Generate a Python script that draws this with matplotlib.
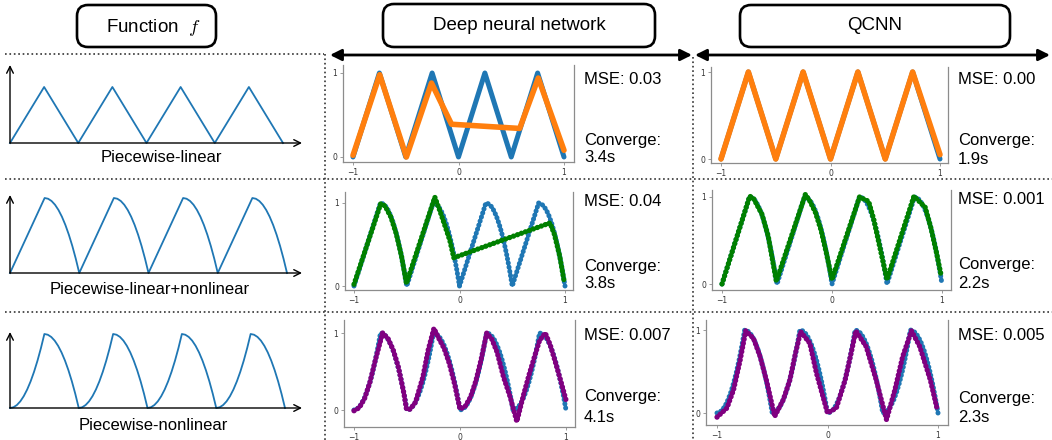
import matplotlib
matplotlib.use("Agg")
import matplotlib.pyplot as plt
from matplotlib.patches import FancyBboxPatch

plt.rcParams["mathtext.fontset"] = "cm"

# ---------------- data ----------------
row_labels = ["Piecewise-linear", "Piecewise-linear+nonlinear", "Piecewise-nonlinear"]
col_titles = ["Deep neural network", "QCNN"]
mse_dnn = ["0.03", "0.04", "0.007"]
mse_qcnn = ["0.00", "0.001", "0.005"]
time_dnn = ["3.4s", "3.8s", "4.1s"]
time_qcnn = ["1.9s", "2.2s", "2.3s"]

# true functions
x_lin = [-1.0, -0.75, -0.5, -0.25, 0.0, 0.25, 0.5, 0.75, 1.0]
y_lin = [0.0, 1.0, 0.0, 1.0, 0.0, 1.0, 0.0, 1.0, 0.0]

x_mix = [-1.0, -0.75, -0.725, -0.70, -0.675, -0.65, -0.625, -0.60, -0.575, -0.55, -0.525, -0.50,
         -0.25, -0.225, -0.20, -0.175, -0.15, -0.125, -0.10, -0.075, -0.05, -0.025, 0.00,
         0.25, 0.275, 0.30, 0.325, 0.35, 0.375, 0.40, 0.425, 0.45, 0.475, 0.50,
         0.75, 0.775, 0.80, 0.825, 0.85, 0.875, 0.90, 0.925, 0.95, 0.975, 1.00]
y_mix = [0.0, 1.0, 0.99, 0.96, 0.91, 0.84, 0.75, 0.64, 0.51, 0.36, 0.19, 0.0,
         1.0, 0.99, 0.96, 0.91, 0.84, 0.75, 0.64, 0.51, 0.36, 0.19, 0.0,
         1.0, 0.99, 0.96, 0.91, 0.84, 0.75, 0.64, 0.51, 0.36, 0.19, 0.0,
         1.0, 0.99, 0.96, 0.91, 0.84, 0.75, 0.64, 0.51, 0.36, 0.19, 0.0]

x_non = [-1.0, -0.975, -0.95, -0.925, -0.90, -0.875, -0.85, -0.825, -0.80, -0.775,
         -0.75, -0.725, -0.70, -0.675, -0.65, -0.625, -0.60, -0.575, -0.55, -0.525,
         -0.50, -0.475, -0.45, -0.425, -0.40, -0.375, -0.35, -0.325, -0.30, -0.275,
         -0.25, -0.225, -0.20, -0.175, -0.15, -0.125, -0.10, -0.075, -0.05, -0.025,
         0.00, 0.025, 0.05, 0.075, 0.10, 0.125, 0.15, 0.175, 0.20, 0.225,
         0.25, 0.275, 0.30, 0.325, 0.35, 0.375, 0.40, 0.425, 0.45, 0.475,
         0.50, 0.525, 0.55, 0.575, 0.60, 0.625, 0.65, 0.675, 0.70, 0.725,
         0.75, 0.775, 0.80, 0.825, 0.85, 0.875, 0.90, 0.925, 0.95, 0.975, 1.00]
y_non = [0.0, 0.01, 0.04, 0.09, 0.16, 0.25, 0.36, 0.49, 0.64, 0.81,
         1.0, 0.99, 0.96, 0.91, 0.84, 0.75, 0.64, 0.51, 0.36, 0.19,
         0.0, 0.01, 0.04, 0.09, 0.16, 0.25, 0.36, 0.49, 0.64, 0.81,
         1.0, 0.99, 0.96, 0.91, 0.84, 0.75, 0.64, 0.51, 0.36, 0.19,
         0.0, 0.01, 0.04, 0.09, 0.16, 0.25, 0.36, 0.49, 0.64, 0.81,
         1.0, 0.99, 0.96, 0.91, 0.84, 0.75, 0.64, 0.51, 0.36, 0.19,
         0.0, 0.01, 0.04, 0.09, 0.16, 0.25, 0.36, 0.49, 0.64, 0.81,
         1.0, 0.99, 0.96, 0.91, 0.84, 0.75, 0.64, 0.51, 0.36, 0.19, 0.0]

# fitted curves
dnn_lin_x = [-1.0, -0.747, -0.494, -0.256, -0.066, 0.58, 0.756, 1.0]
dnn_lin_y = [0.02, 0.98, 0.0, 0.88, 0.39, 0.34, 0.94, 0.08]
qcnn_lin_x = [-1.0, -0.75, -0.5, -0.25, 0.0, 0.25, 0.5, 0.75, 1.0]
qcnn_lin_y = [0.0, 1.0, 0.0, 1.0, 0.0, 1.0, 0.0, 1.0, 0.05]

dnn_mix_x = [-1.0, -0.747, -0.72, -0.70, -0.65, -0.60, -0.55, -0.503,
             -0.234, -0.19, -0.155, -0.092, -0.054, 0.858, 0.90, 0.95, 0.99]
dnn_mix_y = [0.02, 0.99, 0.98, 0.95, 0.83, 0.63, 0.36, 0.03,
             1.07, 0.92, 0.79, 0.55, 0.34, 0.76, 0.62, 0.36, 0.07]
qcnn_mix_x = [-1.0, -0.748, -0.712, -0.636, -0.58, -0.506, -0.242, -0.20, -0.15,
              -0.10, -0.05, 0.0, 0.25, 0.333, 0.38, 0.43, 0.5, 0.745, 0.848,
              0.90, 0.95, 0.99]
qcnn_mix_y = [0.0, 1.01, 0.98, 0.80, 0.55, 0.03, 1.03, 0.95, 0.82,
              0.62, 0.35, 0.05, 1.0, 0.95, 0.74, 0.45, 0.05, 1.01, 0.88,
              0.64, 0.36, 0.11]

dnn_non_x = [-1.0, -0.95, -0.90, -0.85, -0.80, -0.73, -0.68, -0.63, -0.58, -0.53,
             -0.505, -0.47, -0.42, -0.35, -0.30, -0.246, -0.20, -0.15, -0.10, -0.05,
             0.0, 0.05, 0.10, 0.15, 0.20, 0.252, 0.30, 0.35, 0.41, 0.473, 0.536,
             0.60, 0.65, 0.70, 0.75, 0.804, 0.85, 0.90, 0.95, 1.0]
dnn_non_y = [-0.01, 0.03, 0.15, 0.36, 0.64, 1.0, 0.93, 0.78, 0.55, 0.22,
             0.01, 0.01, 0.10, 0.43, 0.78, 1.06, 0.93, 0.80, 0.60, 0.33,
             0.01, 0.05, 0.17, 0.38, 0.66, 1.0, 0.92, 0.75, 0.43, 0.17, -0.15,
             0.20, 0.45, 0.68, 0.90, 1.0, 0.85, 0.62, 0.38, 0.13]
qcnn_non_x = [-1.0, -0.91, -0.85, -0.79, -0.74, -0.67, -0.61, -0.55, -0.478,
              -0.40, -0.34, -0.29, -0.243, -0.16, -0.10, 0.0,
              0.08, 0.16, 0.22, 0.256, 0.35, 0.44, 0.534,
              0.61, 0.68, 0.76, 0.835, 0.93, 0.99]
qcnn_non_y = [-0.05, 0.06, 0.28, 0.64, 0.99, 0.90, 0.68, 0.38, -0.04,
              0.16, 0.40, 0.72, 0.98, 0.84, 0.48, 0.0,
              0.06, 0.40, 0.76, 0.99, 0.80, 0.40, -0.08,
              0.28, 0.68, 0.99, 0.80, 0.40, 0.06]

BLUE = "#1f77b4"
FIT_COLORS = ["#ff7f0e", "green", "purple"]
FONT = "Liberation Sans"

# ---------------- figure ----------------
W, H = 1052, 440
fig = plt.figure(figsize=(W / 100, H / 100), dpi=100)

ov = fig.add_axes([0, 0, 1, 1])
ov.set_xlim(0, W)
ov.set_ylim(H, 0)
ov.axis("off")


def px_axes(box):
    l, t, r, b = box
    return fig.add_axes([l / W, 1 - b / H, (r - l) / W, (b - t) / H])


def set_px_lims(ax, box, xm1, xp1, y0, y1):
    l, t, r, b = box
    ux = (xp1 - xm1) / 2.0
    ax.set_xlim(-1 + (l - xm1) / ux, 1 + (r - xp1) / ux)
    uy = float(y0 - y1)
    ax.set_ylim((y0 - b) / uy, 1 + (y1 - t) / uy)


# header boxes
for (x0, y0, x1, y1) in [(77, 5, 216, 47), (383, 4, 655, 47), (740, 5, 1010, 47)]:
    ov.add_patch(FancyBboxPatch((x0, y0), x1 - x0, y1 - y0,
                                boxstyle="round,pad=0,rounding_size=11",
                                lw=1.9, ec="black", fc="white"))
ov.text(153, 27, r"Function  $f$", ha="center", va="center", fontsize=13.5, family=FONT)
ov.text(519, 26, col_titles[0], ha="center", va="center", fontsize=13.5, family=FONT)
ov.text(875, 26, col_titles[1], ha="center", va="center", fontsize=13.5, family=FONT)

# double arrows
for (xa, xb) in [(330, 692), (695, 1050)]:
    ov.annotate("", xy=(xb, 55), xytext=(xa, 55),
                arrowprops=dict(arrowstyle="<|-|>", lw=2.0, color="black",
                                mutation_scale=17, shrinkA=0, shrinkB=0))

# dotted separators
dot = dict(color="#333333", lw=1.2, ls=":")
ov.plot([5, 324], [54, 54], **dot)
ov.plot([5, 1052], [179, 179], **dot)
ov.plot([5, 1052], [312, 312], **dot)
ov.plot([325, 325], [54, 440], **dot)
ov.plot([693, 693], [57, 440], **dot)

# left column: function sketches
true_x = [x_lin, x_mix, x_non]
true_y = [y_lin, y_mix, y_non]
left_geo = [  # box, x(-1), x(1), y0, y1, label pos
    ((10, 65, 302, 143), 10, 283, 143, 87, (161, 158)),
    ((10, 195, 302, 273), 10, 287, 273, 198, (150, 290)),
    ((10, 332, 302, 408), 10, 285, 408, 334, (153, 425)),
]
for i, (box, xm1, xp1, y0p, y1p, lab) in enumerate(left_geo):
    ax = px_axes(box)
    ax.plot(true_x[i], true_y[i], color=BLUE, lw=1.3, clip_on=False)
    set_px_lims(ax, box, xm1, xp1, y0p, y1p)
    ax.axis("off")
    ax.patch.set_alpha(0)
    ax.annotate("", xy=(1, 0), xytext=(0, 0), xycoords="axes fraction",
                arrowprops=dict(arrowstyle="->", lw=1.0, color="black",
                                shrinkA=0, shrinkB=0, mutation_scale=12))
    ax.annotate("", xy=(0, 1), xytext=(0, 0), xycoords="axes fraction",
                arrowprops=dict(arrowstyle="->", lw=1.0, color="black",
                                shrinkA=0, shrinkB=0, mutation_scale=12))
    ov.text(lab[0], lab[1], row_labels[i], ha="center", va="center",
            fontsize=12, family=FONT)

# result panels
fits = [
    [(dnn_lin_x, dnn_lin_y), (qcnn_lin_x, qcnn_lin_y)],
    [(dnn_mix_x, dnn_mix_y), (qcnn_mix_x, qcnn_mix_y)],
    [(dnn_non_x, dnn_non_y), (qcnn_non_x, qcnn_non_y)],
]
panel_geo = [
    [((343, 65, 574, 162), 353, 564, 157, 73), ((711, 67, 948, 163), 721, 940, 159, 72)],
    [((345, 192, 573, 290), 354, 565, 286, 203), ((712, 190, 951, 290), 722, 942, 284, 197)],
    [((344, 320, 575, 427), 354, 566, 410, 333), ((706, 320, 948, 425), 717, 938, 413, 330)],
]
text_geo = [
    [(584, 79, 140, 158), (958, 79, 141, 160)],
    [(584, 201, 267, 284), (958, 200, 265, 283)],
    [(584, 336, 397, 417), (958, 335, 398, 417)],
]
mses = [mse_dnn, mse_qcnn]
times = [time_dnn, time_qcnn]

for r in range(3):
    for c in range(2):
        box, xm1, xp1, y0p, y1p = panel_geo[r][c]
        ax = px_axes(box)
        fx, fy = fits[r][c]
        if r == 0:
            ax.plot(true_x[r], true_y[r], color=BLUE, lw=3.6, solid_capstyle="round",
                    solid_joinstyle="round")
            ax.plot(fx, fy, color=FIT_COLORS[r], lw=4.0, solid_capstyle="round",
                    solid_joinstyle="round")
        else:
            ax.plot(true_x[r], true_y[r], color=BLUE, lw=3.6,
                    ls=(0, (0.05, 0.8)), dash_capstyle="round")
            ax.plot(fx, fy, color=FIT_COLORS[r], lw=3.8,
                    ls=(0, (0.05, 0.75)), dash_capstyle="round")
        set_px_lims(ax, box, xm1, xp1, y0p, y1p)
        ax.set_xticks([-1, 0, 1])
        ax.set_yticks([0, 1])
        ax.spines["top"].set_visible(False)
        for s in ["left", "bottom", "right"]:
            ax.spines[s].set_color("#8c8c8c")
            ax.spines[s].set_linewidth(0.9)
        ax.tick_params(labelsize=5.5, length=2.5, width=0.6, pad=1.5,
                       colors="#8c8c8c", labelcolor="#333333")
        tx, ty_m, ty_c, ty_t = text_geo[r][c]
        ov.text(tx, ty_m, "MSE: " + mses[c][r], ha="left", va="center",
                fontsize=12, family=FONT)
        ov.text(tx, ty_c, "Converge:", ha="left", va="center", fontsize=12, family=FONT)
        ov.text(tx, ty_t, times[c][r], ha="left", va="center", fontsize=12, family=FONT)

fig.savefig("out.png", dpi=100)
